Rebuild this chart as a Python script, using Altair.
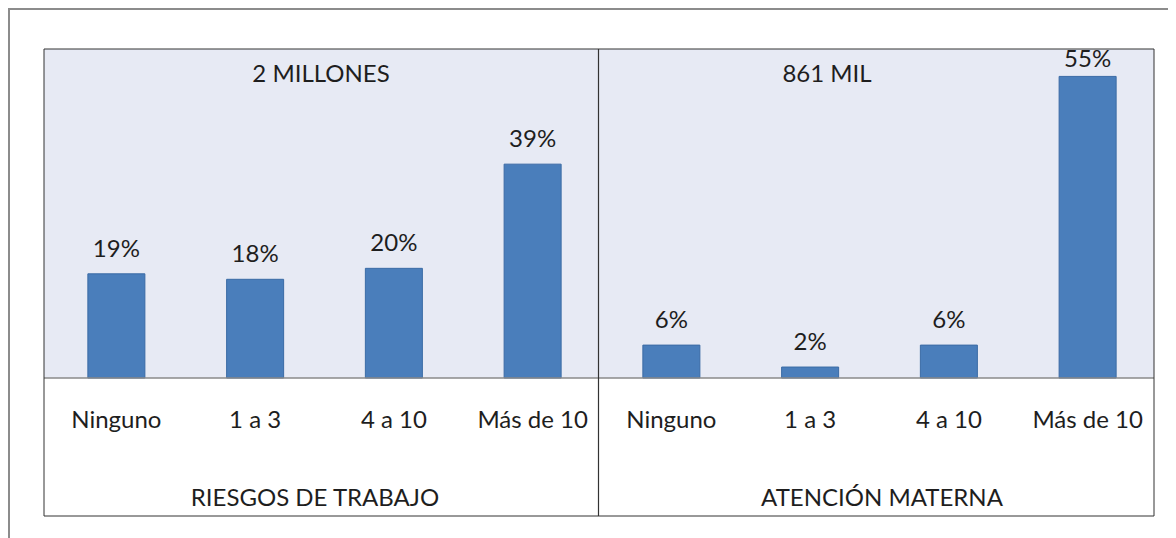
import altair as alt
import pandas as pd

categories = ["Ninguno", "1 a 3", "4 a 10", "Más de 10"]
groups = ["RIESGOS DE TRABAJO", "ATENCIÓN MATERNA"]
panel_titles = ["2 MILLONES", "861 MIL"]
riesgos_values = [19, 18, 20, 39]
materna_values = [6, 2, 6, 55]

rows = []
for g, vals in zip(groups, [riesgos_values, materna_values]):
    for c, v in zip(categories, vals):
        rows.append({"group": g, "cat": c, "key": g + "|" + c, "v": v})
df = pd.DataFrame(rows)
keys = list(df["key"])

W, H, TOTAL_H = 1110, 329, 467
FONT = "Lato"
TXT = "#1e1e1e"

xscale = alt.Scale(domain=keys, range=[3, W + 3], paddingInner=0.589, paddingOuter=0.2945)
yscale = alt.Scale(domain=[0, 60], range=[H, 0])

one = pd.DataFrame({"a": [0]})

outer_top = alt.Chart(one).mark_rule(color="#8c8c8c", strokeWidth=2).encode(
    x=alt.value(-36), x2=alt.value(W + 40), y=alt.value(-40))
outer_left = alt.Chart(one).mark_rule(color="#8c8c8c", strokeWidth=2).encode(
    x=alt.value(-35), y=alt.value(-41), y2=alt.value(TOTAL_H + 60))

bg = alt.Chart(one).mark_rect(color="#E7EAF4").encode(
    x=alt.value(0), x2=alt.value(W), y=alt.value(0), y2=alt.value(H))
box = alt.Chart(one).mark_rect(fill=None, stroke="#333333", strokeWidth=1).encode(
    x=alt.value(0), x2=alt.value(W), y=alt.value(0), y2=alt.value(TOTAL_H))
divider = alt.Chart(one).mark_rule(color="#333333", strokeWidth=1.2).encode(
    x=alt.value(554.5), y=alt.value(0), y2=alt.value(TOTAL_H))
baseline = alt.Chart(one).mark_rule(color="#8a8a8a", strokeWidth=1.5).encode(
    x=alt.value(0), x2=alt.value(W), y=alt.value(H))

bars = alt.Chart(df).mark_bar(color="#4A7EBB", stroke="#3B6BA5", strokeWidth=1).encode(
    x=alt.X("key:N", scale=xscale, axis=None),
    y=alt.Y("v:Q", scale=yscale, axis=None),
)

vlabels = alt.Chart(df).transform_calculate(
    ly="min(datum.v + 3.1, 56.7)", lab="datum.v + '%'"
).mark_text(font=FONT, fontSize=24, color=TXT, baseline="alphabetic").encode(
    x=alt.X("key:N", scale=xscale, axis=None),
    y=alt.Y("ly:Q", scale=yscale, axis=None),
    text="lab:N",
)

clabels = alt.Chart(df).mark_text(font=FONT, fontSize=24, color=TXT, baseline="alphabetic").encode(
    x=alt.X("key:N", scale=xscale, axis=None),
    y=alt.value(379),
    text="cat:N",
)

t1 = alt.Chart(pd.DataFrame({"t": [panel_titles[0]]})).mark_text(
    font=FONT, fontSize=24, color=TXT, baseline="alphabetic").encode(
    x=alt.value(277), y=alt.value(33), text="t:N")
t2 = alt.Chart(pd.DataFrame({"t": [panel_titles[1]]})).mark_text(
    font=FONT, fontSize=24, color=TXT, baseline="alphabetic").encode(
    x=alt.value(783), y=alt.value(33), text="t:N")
g1 = alt.Chart(pd.DataFrame({"t": [groups[0]]})).mark_text(
    font=FONT, fontSize=24, color=TXT, baseline="alphabetic").encode(
    x=alt.value(271), y=alt.value(457), text="t:N")
g2 = alt.Chart(pd.DataFrame({"t": [groups[1]]})).mark_text(
    font=FONT, fontSize=24, color=TXT, baseline="alphabetic").encode(
    x=alt.value(838), y=alt.value(457), text="t:N")

chart = alt.layer(
    outer_top, outer_left, bg, bars, baseline, box, divider, vlabels, clabels, t1, t2, g1, g2
).properties(
    width=W, height=H,
    autosize=alt.AutoSizeParams(type="none"),
    padding={"left": 36, "top": 41, "right": 14, "bottom": 160},
    background="white",
).configure_view(stroke=None)

chart.save("out.html", embed_options={"renderer": "svg", "actions": False})
